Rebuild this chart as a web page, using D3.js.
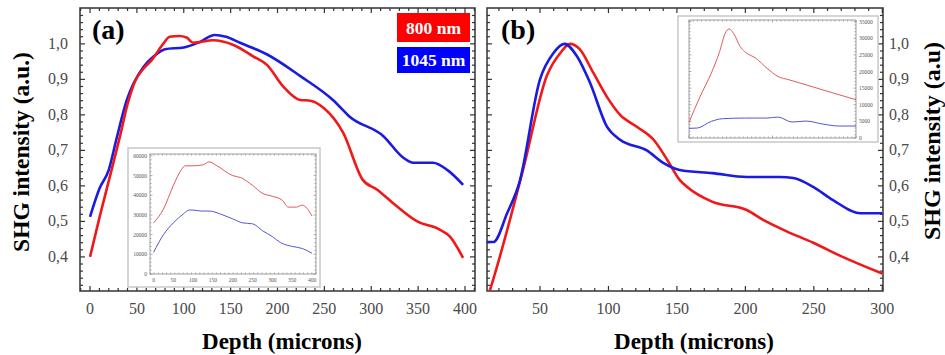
<!DOCTYPE html>
<html>
<head>
<meta charset="utf-8">
<script src="https://cdn.jsdelivr.net/npm/d3@7"></script>
<style>
  body { margin: 0; background: #fff; }
  svg text { font-family: "Liberation Serif", "DejaVu Serif", serif; }
</style>
</head>
<body>
<svg id="chart" width="945" height="355"></svg>
<script>
// Panel (a) normalised curves: [depth, intensity]
const redA = [[0,0.40],[10,0.51],[23,0.645],[32,0.74],[40,0.83],[48,0.895],[57,0.93],[66,0.955],[78,1.0],[85,1.02],[95,1.022],[103,1.018],[110,1.003],[117,1.005],[131,1.01],[153,0.997],[174,0.965],[189,0.94],[206,0.88],[224,0.842],[235,0.84],[249,0.82],[270,0.75],[291,0.617],[306,0.59],[323,0.552],[349,0.50],[373,0.477],[384,0.457],[398,0.397]];
const blueA = [[0,0.513],[10,0.592],[20,0.645],[28,0.73],[39,0.84],[57,0.935],[68,0.965],[80,0.985],[100,0.99],[117,1.005],[133,1.025],[145,1.02],[160,1.003],[189,0.97],[224,0.91],[260,0.84],[277,0.795],[313,0.74],[334,0.68],[345,0.665],[366,0.665],[381,0.645],[398,0.603]];
// Panel (a) inset raw counts
const redAInset = [[0,26000],[25,33000],[50,45000],[70,53000],[80,55000],[100,55000],[125,55500],[140,57000],[160,55000],[200,50000],[220,49000],[250,45000],[275,41000],[300,39500],[325,37500],[340,34000],[360,34000],[375,35000],[400,29500]];
const blueAInset = [[0,11000],[25,20000],[50,26000],[75,30500],[90,32500],[100,32500],[120,32000],[140,32000],[175,30000],[200,28000],[225,26000],[250,25500],[275,22000],[300,19000],[320,16000],[350,14000],[375,13000],[400,10500]];

// Panel (b) normalised curves
const redB = [[5,0.21],[13.5,0.307],[37.6,0.645],[55,0.91],[65,0.975],[72,1.0],[79,0.985],[89,0.918],[99,0.85],[108.5,0.80],[121,0.766],[133,0.73],[143,0.673],[152,0.617],[157.5,0.597],[176,0.555],[201,0.532],[213,0.504],[233,0.467],[249.5,0.44],[271,0.40],[300,0.353]];
const blueB = [[11.3,0.442],[16,0.442],[26,0.523],[35,0.61],[50,0.90],[60,0.975],[68,1.0],[77,0.965],[86.6,0.89],[99,0.766],[108.5,0.73],[128,0.70],[140,0.665],[152,0.645],[176,0.636],[201,0.625],[225,0.625],[235,0.622],[249.5,0.597],[264,0.56],[284,0.523],[300,0.523]];
// Panel (b) inset raw counts
const redBInset = [[0,4700],[20,12500],[40,19500],[55,26000],[65,31500],[72,32800],[80,31500],[92,27500],[100,26000],[120,24000],[140,21000],[160,18500],[180,17500],[200,16500],[230,15000],[260,13500],[300,11500]];
const blueBInset = [[0,2900],[15,3000],[40,5000],[60,5800],[100,6000],[140,6000],[160,6300],[185,4800],[210,5100],[240,4200],[270,3600],[300,3600]];

const yTicks = [0.4, 0.5, 0.6, 0.7, 0.8, 0.9, 1.0];
const xTicksA = [0, 50, 100, 150, 200, 250, 300, 350, 400];
const xTicksB = [50, 100, 150, 200, 250, 300];
const insetTicksA = [0, 10000, 20000, 30000, 40000, 50000, 60000];
const insetTicksB = [0, 5000, 10000, 15000, 20000, 25000, 30000, 35000];
const legend = [{ label: '800 nm', color: '#ff0000' }, { label: '1045 nm', color: '#0000ff' }];

const RED = '#f01818';
const BLUE = '#1a1ae0';
const svg = d3.select('#chart');
const fmt = (d) => d.toFixed(1).replace('.', ',');

// Inward ticks on a frame
function frameTicks(g, x, y, xMinor, yMinor, opts) {
  const [x0, x1] = x.range();
  const [y0, y1] = y.range();
  const col = opts.color || '#333';
  const w = opts.width || 1;
  const line = (a, b, c, d) =>
    g.append('line').attr('x1', a).attr('y1', b).attr('x2', c).attr('y2', d)
      .attr('stroke', col).attr('stroke-width', w);
  xMinor.forEach((v) => {
    const l = opts.xMajor.includes(v) ? opts.major : opts.minor;
    line(x(v), y0, x(v), y0 - l);
    line(x(v), y1, x(v), y1 + l);
  });
  yMinor.forEach((v) => {
    const l = opts.yMajor.includes(v) ? opts.major : opts.minor;
    line(x0, y(v), x0 + l, y(v));
    line(x1, y(v), x1 - l, y(v));
  });
}

function curve(g, x, y, data, color, width) {
  g.append('path')
    .datum(data)
    .attr('fill', 'none')
    .attr('stroke', color)
    .attr('stroke-width', width)
    .attr('stroke-linejoin', 'round')
    .attr('d', d3.line().x((d) => x(d[0])).y((d) => y(d[1])).curve(d3.curveMonotoneX));
}

function mainPanel(id, xDomain, xRange, xTicks, side, titleX) {
  const x = d3.scaleLinear(xDomain, xRange);
  const y = d3.scaleLinear([0.304, 1.101], [291, 8]);
  const g = svg.append('g').attr('id', id);

  svg.append('clipPath').attr('id', `clip-${id}`)
    .append('rect').attr('x', xRange[0]).attr('y', 8)
    .attr('width', xRange[1] - xRange[0]).attr('height', 283);

  const minorX = d3.range(Math.ceil(xDomain[0] / 10) * 10, xDomain[1], 10);
  const minorY = d3.range(32, 110, 2).map((v) => +(v / 100).toFixed(2));
  frameTicks(g, x, y, minorX, minorY, {
    xMajor: d3.range(0, 450, 50), yMajor: yTicks, major: 5, minor: 3, width: 1.2,
  });

  g.append('rect')
    .attr('x', xRange[0]).attr('y', 8)
    .attr('width', xRange[1] - xRange[0]).attr('height', 283)
    .attr('fill', 'none').attr('stroke', '#333').attr('stroke-width', 1.5);

  g.selectAll('.xl').data(xTicks).enter().append('text')
    .attr('x', (d) => x(d)).attr('y', 314)
    .attr('text-anchor', 'middle').attr('font-size', 16).attr('fill', '#4a4a4a')
    .text((d) => d);

  g.selectAll('.yl').data(yTicks).enter().append('text')
    .attr('x', side === 'left' ? xRange[0] - 12 : xRange[1] + 6)
    .attr('y', (d) => y(d) + 5)
    .attr('text-anchor', side === 'left' ? 'end' : 'start')
    .attr('font-size', 16).attr('fill', '#4a4a4a')
    .text(fmt);

  g.append('text')
    .attr('x', titleX).attr('y', 349)
    .attr('text-anchor', 'middle').attr('font-size', 23).attr('font-weight', 'bold')
    .text('Depth (microns)');

  return { g, x, y, clip: `url(#clip-${id})` };
}

function inset(outer, inner, xDomain, yDomain, yTickVals, xTickVals, labelSide, showX) {
  const g = svg.append('g');
  g.append('rect')
    .attr('x', outer[0]).attr('y', outer[1])
    .attr('width', outer[2] - outer[0]).attr('height', outer[3] - outer[1])
    .attr('fill', '#fff').attr('stroke', '#c8c8c8').attr('stroke-width', 1.5);
  const x = d3.scaleLinear(xDomain, [inner[0], inner[2]]);
  const y = d3.scaleLinear(yDomain, [inner[3], inner[1]]);
  const step = (xDomain[1] - xDomain[0]) / 40;
  const minorX = d3.range(xDomain[0], xDomain[1] + 0.01, step);
  const minorY = d3.range(yDomain[0], yDomain[1] + 1, (yTickVals[1] - yTickVals[0]) / 5);
  frameTicks(g, x, y, minorX, minorY, {
    xMajor: xTickVals, yMajor: yTickVals, major: 2.5, minor: 1.5, color: '#777', width: 0.6,
  });
  g.append('rect')
    .attr('x', inner[0]).attr('y', inner[1])
    .attr('width', inner[2] - inner[0]).attr('height', inner[3] - inner[1])
    .attr('fill', 'none').attr('stroke', '#888').attr('stroke-width', 0.8);
  g.selectAll('.iy').data(yTickVals).enter().append('text')
    .attr('x', labelSide === 'left' ? inner[0] - 3 : inner[2] + 3)
    .attr('y', (d) => y(d) + 2)
    .attr('text-anchor', labelSide === 'left' ? 'end' : 'start')
    .attr('font-size', 5.5).attr('fill', '#555')
    .text((d) => d);
  if (showX) {
    g.selectAll('.ix').data(xTickVals).enter().append('text')
      .attr('x', (d) => x(d)).attr('y', inner[3] + 8)
      .attr('text-anchor', 'middle').attr('font-size', 5.5).attr('fill', '#555')
      .text((d) => d);
  }
  return { g, x, y };
}

// ---- Panel (a)
const A = mainPanel('a', [-10.7, 410.7], [80, 475], xTicksA, 'left', 282);
const la = A.g.append('g').attr('clip-path', A.clip);
curve(la, A.x, A.y, blueA, BLUE, 2.6);
curve(la, A.x, A.y, redA, RED, 2.6);

A.g.append('text').attr('x', 92).attr('y', 39)
  .attr('font-size', 28).attr('font-weight', 'bold').text('(a)');

svg.append('text')
  .attr('transform', 'translate(29,152) rotate(-90)')
  .attr('text-anchor', 'middle').attr('font-size', 23.5).attr('font-weight', 'bold')
  .text('SHG intensity (a.u.)');

legend.forEach((d, i) => {
  const top = i === 0 ? 13 : 47;
  const h = i === 0 ? 29 : 26;
  svg.append('rect').attr('x', 397).attr('y', top).attr('width', 73).attr('height', h)
    .attr('fill', d.color);
  svg.append('text').attr('x', 433.5).attr('y', top + h / 2 + 6)
    .attr('text-anchor', 'middle').attr('fill', '#fff')
    .attr('font-size', 17.5).attr('font-weight', 'bold').text(d.label);
});

const IA = inset([128, 148, 320, 287], [150, 154, 316, 274], [-9, 410], [0, 61000],
  insetTicksA, [0, 50, 100, 150, 200, 250, 300, 350, 400], 'left', true);
curve(IA.g, IA.x, IA.y, redAInset, '#e05a5a', 1);
curve(IA.g, IA.x, IA.y, blueAInset, '#5555d5', 1);

// ---- Panel (b)
const B = mainPanel('b', [11.3, 300.5], [487, 883], xTicksB, 'right', 694);
const lb = B.g.append('g').attr('clip-path', B.clip);
curve(lb, B.x, B.y, redB, RED, 2.6);
curve(lb, B.x, B.y, blueB, BLUE, 2.6);

B.g.append('text').attr('x', 501).attr('y', 39)
  .attr('font-size', 28).attr('font-weight', 'bold').text('(b)');

svg.append('text')
  .attr('transform', 'translate(940,141) rotate(-90)')
  .attr('text-anchor', 'middle').attr('font-size', 24).attr('font-weight', 'bold')
  .text('SHG intensity (a.u)');

const IB = inset([678, 16, 878, 142], [689, 20, 856, 138], [0, 300], [0, 35500],
  insetTicksB, [0, 50, 100, 150, 200, 250, 300], 'right', false);
curve(IB.g, IB.x, IB.y, redBInset, '#e05a5a', 1);
curve(IB.g, IB.x, IB.y, blueBInset, '#5555d5', 1);
</script>
</body>
</html>
